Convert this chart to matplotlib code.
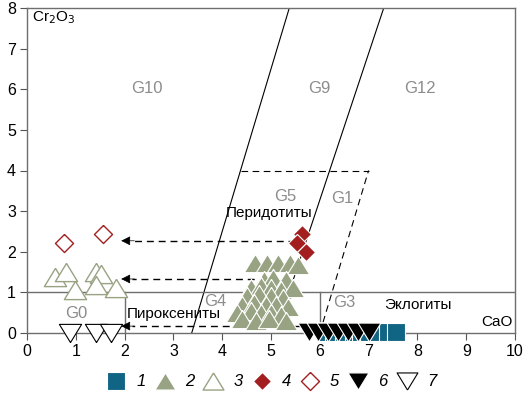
import matplotlib
matplotlib.use("Agg")
import matplotlib.pyplot as plt
from matplotlib.lines import Line2D
import numpy as np

plt.rcParams['font.family'] = ['Liberation Sans', 'DejaVu Sans']

# ---- data (CaO, Cr2O3) ----
s1_cao = [6.1, 6.3, 6.5, 6.7, 6.85, 7.0, 7.2, 7.4, 7.57]
s1_cr = [0.02] * 9

s2_cao = [4.68, 4.92, 5.15, 5.38, 5.55,
          4.85, 5.05, 5.3,
          4.6, 4.8, 5.0, 5.2, 5.45,
          4.5, 4.75, 5.0, 5.25,
          4.4, 4.65, 4.9, 5.1, 5.35,
          4.3, 4.6, 4.8, 5.0, 5.2,
          4.4, 4.7, 4.95, 5.3]
s2_cr = [1.72, 1.72, 1.72, 1.72, 1.68,
         1.3, 1.35, 1.3,
         1.1, 1.15, 1.1, 1.05, 1.1,
         0.9, 0.95, 0.9, 0.85,
         0.7, 0.75, 0.7, 0.7, 0.65,
         0.5, 0.55, 0.5, 0.5, 0.45,
         0.35, 0.3, 0.35, 0.3]

s3_cao = [0.57, 0.79, 0.98, 1.42, 1.52, 1.41, 1.83]
s3_cr = [1.37, 1.51, 1.06, 1.49, 1.45, 1.18, 1.10]

s4_cao = [5.64, 5.54, 5.71]
s4_cr = [2.44, 2.22, 2.00]

s5_cao = [0.76, 1.56]
s5_cr = [2.22, 2.44]

s6_cao = [5.78, 5.97, 6.17, 6.37, 6.58, 6.79, 7.0]
s6_cr = [0.02] * 7

s7_cao = [0.89, 1.41, 1.73]
s7_cr = [0.0, 0.0, 0.0]

legend_labels = ['1', '2', '3', '4', '5', '6', '7']

x_ticks = list(range(0, 11))
y_ticks = list(range(0, 9))

# ---- figure ----
fig = plt.figure(figsize=(5.26, 3.99), dpi=100)
ax = fig.add_axes([27/526, 1 - 333/399, (515 - 27)/526, (333 - 8)/399])
ax.set_xlim(0, 10)
ax.set_ylim(0, 8)
ax.set_xticks(x_ticks)
ax.set_yticks(y_ticks)
ax.tick_params(direction='out', length=5, width=0.8, color='#555555', labelsize=11.5, pad=3)
for sp in ax.spines.values():
    sp.set_color('#6e6e6e')
    sp.set_linewidth(1.0)

lc = 'black'
lw = 0.8
gray_lc = '#6e6e6e'
# field boundaries
ax.plot([3.375, 5.375], [0, 8], color=lc, lw=lw, zorder=2)
ax.plot([5.37, 7.31], [1, 8], color=lc, lw=lw, zorder=2)
ax.plot([4.375, 7.0], [4, 4], color=lc, lw=lw, ls=(0, (6, 4)), zorder=2)
ax.plot([6.0, 7.0], [0, 4], color=lc, lw=lw, ls=(0, (6, 4)), zorder=2)
ax.plot([0, 10], [1, 1], color=gray_lc, lw=1.0, zorder=2)
ax.plot([2, 2], [0, 1], color=gray_lc, lw=1.0, zorder=2)
ax.plot([6, 6], [0, 1], color=gray_lc, lw=1.0, zorder=2)

# arrows
arrow_rows = [(5.5, 2.27), (4.9, 1.33), (5.6, 0.17)]
for xs, ys in arrow_rows:
    ax.plot([xs, 2.15], [ys, ys], color='black', lw=1.0, ls=(0, (5, 3.5)), zorder=3)
    ax.annotate('', xy=(1.93, ys), xytext=(2.2, ys),
                arrowprops=dict(arrowstyle='-|>', color='black', lw=0.5,
                                mutation_scale=14, shrinkA=0, shrinkB=0), zorder=3)

# field labels
gcol = '#8c8c8c'
for txt, x, y in [('G10', 2.46, 6.03), ('G9', 6.0, 6.03), ('G12', 8.05, 6.03),
                  ('G5', 5.3, 3.35), ('G1', 6.47, 3.3), ('G4', 3.86, 0.78),
                  ('G3', 6.5, 0.74), ('G0', 1.0, 0.49)]:
    ax.text(x, y, txt, color=gcol, fontsize=12, ha='center', va='center', zorder=4)

ax.text(4.97, 2.96, 'Перидотиты', fontsize=11, ha='center', va='center', zorder=6)
ax.text(3.0, 0.47, 'Пироксениты', fontsize=11, ha='center', va='center', zorder=6)
ax.text(8.0, 0.69, 'Эклогиты', fontsize=11, ha='center', va='center', zorder=6)
ax.text(9.63, 0.27, 'CaO', fontsize=11, ha='center', va='center', zorder=6)
ax.text(0.55, 7.76, 'Cr$_2$O$_3$', fontsize=11, ha='center', va='center', zorder=6)

# markers
blue = '#116584'
green = '#98a383'
red = '#a31f1f'
tri_up = [(0, 0.82), (-1, -0.82), (1, -0.82), (0, 0.82)]
tri_dn = [(0, -0.82), (-1, 0.82), (1, 0.82), (0, -0.82)]
diam = [(0, 1), (1, 0), (0, -1), (-1, 0), (0, 1)]

ax.plot(s1_cao, s1_cr, ls='none', marker='s', ms=12.5, mfc=blue, mec='white', mew=0.8, zorder=7, clip_on=False)
ax.plot(s6_cao, s6_cr, ls='none', marker=tri_dn, ms=16.5, mfc='black', mec='white', mew=0.8, zorder=8, clip_on=False)
ax.plot(s7_cao, s7_cr, ls='none', marker=tri_dn, ms=16, mfc='white', mec='black', mew=0.8, zorder=8, clip_on=False)
ax.plot(s3_cao, s3_cr, ls='none', marker=tri_up, ms=16, mfc='white', mec=green, mew=1.0, zorder=7)
ax.plot(s2_cao, s2_cr, ls='none', marker=tri_up, ms=16, mfc=green, mec='white', mew=0.8, zorder=7)
ax.plot(s5_cao, s5_cr, ls='none', marker=diam, ms=13, mfc='white', mec=red, mew=1.0, zorder=7)
ax.plot(s4_cao, s4_cr, ls='none', marker=diam, ms=13, mfc=red, mec='white', mew=0.8, zorder=7)

# legend
handles = [
    Line2D([], [], ls='none', marker='s', ms=12.5, mfc=blue, mec='white', mew=0.8),
    Line2D([], [], ls='none', marker=tri_up, ms=15, mfc=green, mec='white', mew=0.8),
    Line2D([], [], ls='none', marker=tri_up, ms=15, mfc='white', mec=green, mew=1.0),
    Line2D([], [], ls='none', marker=diam, ms=13, mfc=red, mec='white', mew=0.8),
    Line2D([], [], ls='none', marker=diam, ms=13, mfc='white', mec=red, mew=1.0),
    Line2D([], [], ls='none', marker=tri_dn, ms=15, mfc='black', mec='white', mew=0.8),
    Line2D([], [], ls='none', marker=tri_dn, ms=15, mfc='white', mec='black', mew=0.8),
]
leg = fig.legend(handles, legend_labels, loc='center', bbox_to_anchor=(272/526, 1 - 382/399),
                 ncol=7, frameon=False, handlelength=1.0, handletextpad=0.7,
                 columnspacing=0.65, prop={'style': 'italic', 'size': 12})

fig.savefig('out.png', dpi=100)
